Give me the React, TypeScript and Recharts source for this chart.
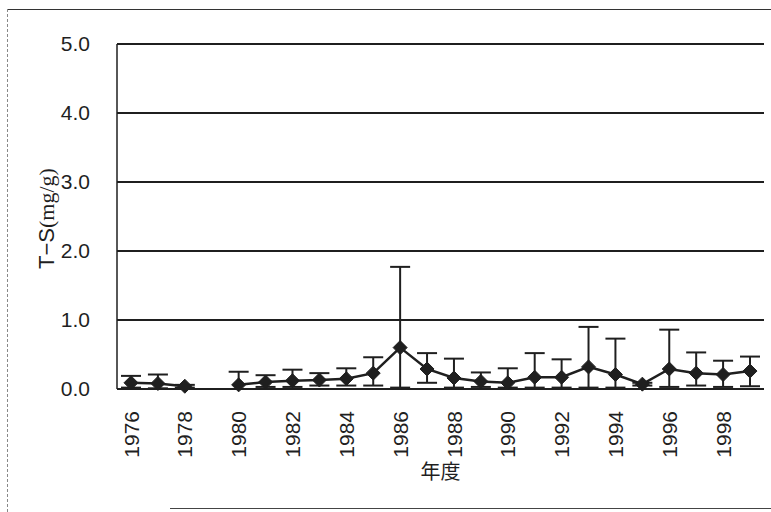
import React from 'react';
import { LineChart, Line, XAxis, YAxis, CartesianGrid, ErrorBar } from 'recharts';

// fiscal years, 1979 has no survey
const years = [
  1976, 1977, 1978, 1979, 1980, 1981, 1982, 1983, 1984, 1985, 1986, 1987,
  1988, 1989, 1990, 1991, 1992, 1993, 1994, 1995, 1996, 1997, 1998, 1999,
];
// mean T-S (mg/g)
const means = [
  0.09, 0.08, 0.04, null, 0.06, 0.1, 0.12, 0.13, 0.15, 0.23, 0.6, 0.29,
  0.16, 0.11, 0.09, 0.17, 0.17, 0.32, 0.21, 0.07, 0.29, 0.23, 0.21, 0.26,
];
// max / min of the error bars
const highs = [
  0.19, 0.21, 0.06, null, 0.25, 0.2, 0.28, 0.23, 0.3, 0.46, 1.77, 0.52,
  0.44, 0.24, 0.3, 0.52, 0.43, 0.9, 0.73, 0.09, 0.86, 0.53, 0.41, 0.47,
];
const lows = [
  0.02, 0.01, 0.02, null, 0.0, 0.03, 0.03, 0.05, 0.05, 0.05, 0.02, 0.09,
  0.02, 0.03, 0.02, 0.02, 0.02, 0.02, 0.02, 0.05, 0.03, 0.05, 0.03, 0.04,
];
const yTicks = [0, 1, 2, 3, 4, 5];

const ink = '#1f1f1f';
const sans = "'Liberation Sans', Arial, sans-serif";

const chartData = years.map((yr, i) => {
  const m = means[i];
  return {
    year: String(yr),
    value: m,
    err: m == null ? undefined : [m - (lows[i] as number), (highs[i] as number) - m],
  };
});

const Diamond = (props: any) => {
  const { cx, cy, index } = props;
  if (cx == null || cy == null || props.value == null) return <g key={`d-${index}`} />;
  const r = 7;
  return (
    <path
      key={`d-${index}`}
      d={`M${cx},${cy - r}L${cx + r},${cy}L${cx},${cy + r}L${cx - r},${cy}Z`}
      fill={ink}
      stroke={ink}
    />
  );
};

const YearTick = (props: any) => {
  const { x, y, payload } = props;
  return (
    <text
      x={x}
      y={y}
      transform={`rotate(-90 ${x} ${y})`}
      textAnchor="end"
      dy="0.36em"
      fontSize={21}
      fontFamily={sans}
      fill={ink}
    >
      {payload.value}
    </text>
  );
};

const YTitle = (props: any) => {
  const vb = props.viewBox || {};
  const cx = 46;
  const cy = vb.y + vb.height / 2 + 2;
  return (
    <text
      x={cx}
      y={cy}
      transform={`rotate(-90 ${cx} ${cy})`}
      textAnchor="middle"
      dy="0.36em"
      fontSize={22}
      fill={ink}
    >
      <tspan fontFamily={sans}>T−S</tspan>
      <tspan fontFamily="'Liberation Serif', 'DejaVu Serif', serif">(mg/g)</tspan>
    </text>
  );
};

export default function App() {
  return (
    <div
      style={{
        position: 'absolute',
        left: 0,
        top: 0,
        width: 771,
        height: 512,
        background: '#fff',
        overflow: 'hidden',
      }}
    >
      {/* scanned page frame */}
      <div style={{ position: 'absolute', left: 7, top: 9, right: 0, height: 0, borderTop: '1.5px solid #333' }} />
      <div style={{ position: 'absolute', left: 7, top: 9, bottom: 0, width: 0, borderLeft: '1px dashed #888' }} />
      <div style={{ position: 'absolute', left: 170, right: 0, top: 508, height: 0, borderTop: '1.5px solid #444' }} />

      <div style={{ position: 'absolute', left: 0, top: 0 }}>
        <LineChart
          width={771}
          height={512}
          data={chartData}
          margin={{ top: 44, right: 7, bottom: 0, left: 0 }}
        >
          <CartesianGrid vertical={false} stroke={ink} strokeWidth={2} />
          <XAxis
            dataKey="year"
            interval={1}
            height={123}
            padding={{ left: 14, right: 14 }}
            tickSize={0}
            tickMargin={22}
            tickLine={false}
            axisLine={{ stroke: ink, strokeWidth: 2 }}
            tick={<YearTick />}
            label={{
              value: '年度',
              position: 'insideBottom',
              offset: 33,
              fontSize: 20,
              fill: ink,
              fontFamily: "'Noto Sans CJK JP', sans-serif",
            }}
          />
          <YAxis
            domain={[0, 5]}
            ticks={yTicks}
            width={117}
            tickSize={0}
            tickMargin={27}
            tickLine={false}
            axisLine={{ stroke: ink, strokeWidth: 1.5 }}
            tickFormatter={(v: number) => v.toFixed(1)}
            tick={{ fontSize: 21, fill: ink, fontFamily: sans }}
            label={<YTitle />}
          />
          <YAxis
            yAxisId="r"
            orientation="right"
            domain={[0, 5]}
            width={0}
            tick={false}
            tickLine={false}
            axisLine={{ stroke: ink, strokeWidth: 1.5 }}
          />
          <Line
            dataKey="value"
            stroke={ink}
            strokeWidth={2.5}
            dot={<Diamond />}
            activeDot={false}
            connectNulls={false}
            isAnimationActive={false}
          >
            <ErrorBar dataKey="err" width={10} stroke={ink} strokeWidth={2} direction="y" />
          </Line>
        </LineChart>
      </div>
    </div>
  );
}
